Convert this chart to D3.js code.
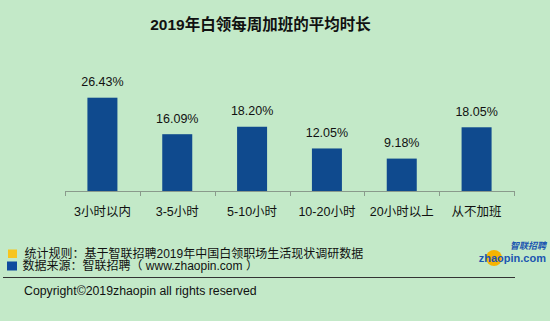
<!DOCTYPE html>
<html><head><meta charset="utf-8">
<script src="https://cdn.jsdelivr.net/npm/d3@7"></script>
<style>
html,body{margin:0;padding:0;background:#c3e9c8;}
svg{display:block;}
text{font-family:"Liberation Sans","Noto Sans CJK SC",sans-serif;fill:#111;}
</style></head><body>
<svg id="c" width="550" height="321"></svg>
<script>
const categories = ["3小时以内","3-5小时","5-10小时","10-20小时","20小时以上","从不加班"];
const values = [26.43, 16.09, 18.20, 12.05, 9.18, 18.05];
const valueLabels = ["26.43%","16.09%","18.20%","12.05%","9.18%","18.05%"];
const title = "2019年白领每周加班的平均时长";
const notes = ["统计规则：基于智联招聘2019年中国白领职场生活现状调研数据","数据来源：智联招聘（ www.zhaopin.com ）"];
const copyright = "Copyright©2019zhaopin all rights reserved";

const svg = d3.select("#c");
svg.append("rect").attr("width",550).attr("height",321).attr("fill","#c3e9c8");

svg.append("text").attr("x",260.5).attr("y",29.5).attr("text-anchor","middle")
  .style("font-size","15.5px").style("font-weight","bold").text(title);

const x = d3.scaleBand().domain(categories).range([65,514]);
const y = d3.scaleLinear().domain([0,30]).range([191,85.1]);
const bw = 30;

const g = svg.append("g");
g.selectAll("rect.bar").data(values).join("rect").attr("class","bar")
  .attr("x",(d,i)=>x(categories[i])+x.bandwidth()/2-bw/2)
  .attr("width",bw)
  .attr("y",d=>y(d)).attr("height",d=>y(0)-y(d))
  .attr("fill","#0f4a8e");

g.selectAll("text.val").data(values).join("text").attr("class","val")
  .attr("x",(d,i)=>x(categories[i])+x.bandwidth()/2)
  .attr("y",d=>y(d)-11.5).attr("text-anchor","middle")
  .style("font-size","12.5px").text((d,i)=>valueLabels[i]);

// axis
const ax = svg.append("g");
ax.append("line").attr("x1",65).attr("x2",514).attr("y1",191.5).attr("y2",191.5)
  .attr("stroke","#8a9a8c").attr("stroke-width",1);
const edges = categories.map(c=>x(c)).concat([514]);
ax.selectAll("line.tk").data(edges).join("line").attr("class","tk")
  .attr("x1",d=>Math.round(d)+0.5).attr("x2",d=>Math.round(d)+0.5)
  .attr("y1",191).attr("y2",196).attr("stroke","#8a9a8c");
ax.selectAll("text.cat").data(categories).join("text").attr("class","cat")
  .attr("x",d=>x(d)+x.bandwidth()/2).attr("y",215.5).attr("text-anchor","middle")
  .style("font-size","12.5px").text(d=>d);

// footer
svg.append("rect").attr("x",8).attr("y",249.5).attr("width",9).attr("height",8.5).attr("fill","#f7c51e");
svg.append("rect").attr("x",7).attr("y",261.5).attr("width",10).attr("height",9).attr("fill","#0f4a9e");
svg.append("text").attr("x",24.5).attr("y",257.5).style("font-size","12px").text(notes[0]);
svg.append("text").attr("x",22.5).attr("y",270).style("font-size","12px").text(notes[1]);
svg.append("line").attr("x1",3).attr("x2",515).attr("y1",277.5).attr("y2",277.5).attr("stroke","#333").attr("stroke-width",1);
svg.append("text").attr("x",24).attr("y",295).style("font-size","12.3px").text(copyright);

// logo
svg.append("circle").attr("cx",494).attr("cy",258).attr("r",8).attr("fill","#f6b400");
svg.append("text").attr("x",546).attr("y",249).attr("text-anchor","end")
  .style("font-size","9px").style("font-style","italic").style("font-weight","bold")
  .style("fill","#1b56b0").text("智联招聘");
svg.append("text").attr("x",546).attr("y",262).attr("text-anchor","end")
  .style("font-size","11px").style("font-weight","bold")
  .style("fill","#1b56b0").text("zhaopin.com");
</script>
</body></html>
